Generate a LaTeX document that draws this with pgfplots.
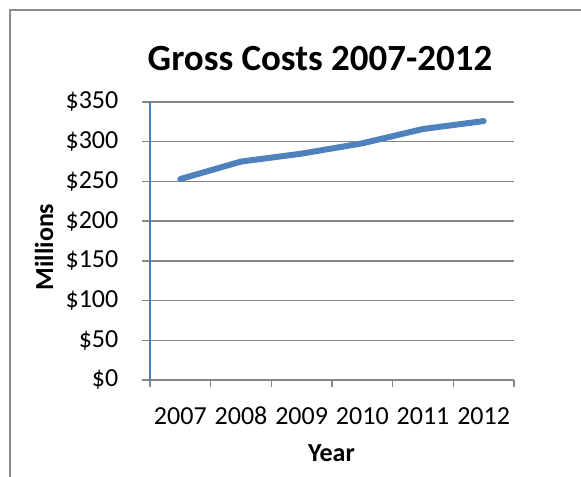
\documentclass[border=0pt]{standalone}
\usepackage{pgfplots}
\pgfplotsset{compat=1.18}
\usepackage{fontspec}
\setmainfont{Carlito}
\definecolor{linec}{HTML}{4F81BD}
\definecolor{yaxc}{HTML}{4A7EBB}
\definecolor{gridc}{HTML}{868686}
\definecolor{borderc}{HTML}{8C8C8C}
\begin{document}
\begin{tikzpicture}
\useasboundingbox (0pt,0pt) rectangle (435.75pt,357pt);
\draw[borderc, line width=1.5pt] (7.5pt,-2pt) -- (7.5pt,349.5pt) -- (437pt,349.5pt);
\begin{axis}[
  at={(112.5pt,72pt)}, anchor=south west,
  scale only axis, width=273pt, height=208.5pt,
  xmin=-0.5, xmax=5.5, ymin=0, ymax=350,
  axis x line*=bottom, axis y line*=left,
  x axis line style={draw=gridc, line width=1pt, -},
  y axis line style={draw=yaxc, line width=1pt, -},
  tick align=outside,
  xtick={0,1,2,3,4,5},
  xticklabels={2007,2008,2009,2010,2011,2012},
  major x tick style={draw=none},
  minor xtick={-0.5,0.5,1.5,2.5,3.5,4.5,5.5},
  minor x tick style={draw=gridc, line width=1pt},
  minor tick length=5.6pt,
  major tick length=6pt,
  ytick={0,50,100,150,200,250,300,350},
  yticklabels={\$0,\$50,\$100,\$150,\$200,\$250,\$300,\$350},
  y tick style={draw=gridc, line width=1pt},
  ymajorgrids, grid style={draw=gridc, line width=1.05pt},
  ticklabel style={font=\fontsize{19.5}{22}\selectfont, text=black},
  xticklabel style={anchor=base, yshift=-27pt},
  yticklabel style={xshift=-14.25pt},
  clip=false,
]
\addplot[linec, line width=4.5pt, line cap=round, line join=round] coordinates {
 (0,253) (1,275) (2,285) (3,298) (4,316) (5,326)
};
\end{axis}
\node[font=\fontsize{27.7}{32}\selectfont\bfseries, anchor=base] at (240pt,304.5pt) {Gross Costs 2007-2012};
\node[font=\fontsize{19.5}{22}\selectfont\bfseries, anchor=base] at (248.6pt,11.25pt) {Year};
\node[font=\fontsize{19.5}{22}\selectfont\bfseries, anchor=base, rotate=90] at (39.75pt,171.75pt) {Millions};
\end{tikzpicture}
\end{document}
